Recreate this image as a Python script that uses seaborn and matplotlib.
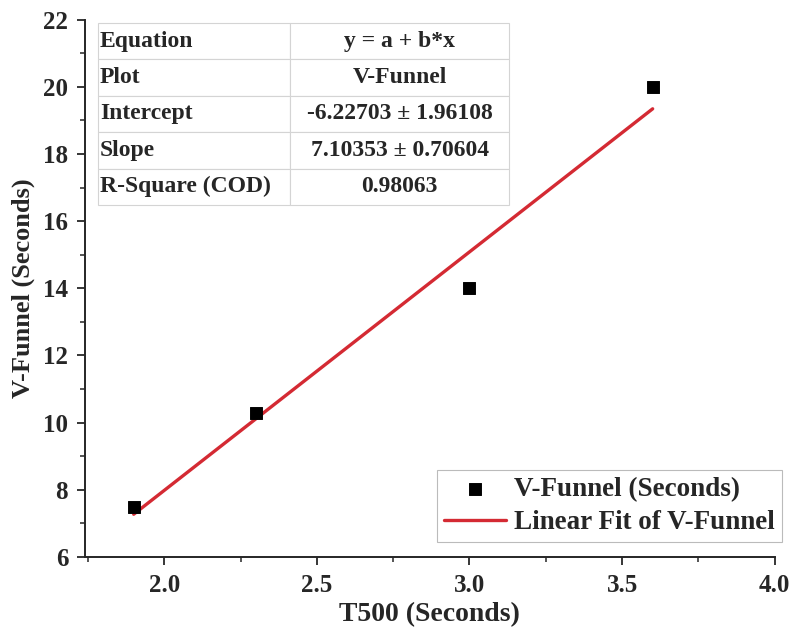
import numpy as np
import pandas as pd
import seaborn as sns
import matplotlib.pyplot as plt
from matplotlib.ticker import MultipleLocator

# measured points
t500 = [1.9, 2.3, 3.0, 3.6]
v_funnel = [7.5, 10.3, 14.0, 20.0]

# fit results as reported
intercept = -6.22703
intercept_err = 1.96108
slope = 7.10353
slope_err = 0.70604
r_square = 0.98063

table_rows = [
    ['Equation', 'y = a + b*x'],
    ['Plot', 'V-Funnel'],
    ['Intercept', f'{intercept:.5f} \u00b1 {intercept_err:.5f}'],
    ['Slope', f'{slope:.5f} \u00b1 {slope_err:.5f}'],
    ['R-Square (COD)', f'{r_square:.5f}'],
]

sns.set_style('ticks')
plt.rcParams['font.family'] = ['Liberation Serif', 'DejaVu Serif']
plt.rcParams['font.weight'] = 'bold'

df = pd.DataFrame({'x': t500, 'y': v_funnel})
fit_x = np.array([min(t500), max(t500)])
fit_df = pd.DataFrame({'x': fit_x, 'y': intercept + slope * fit_x})

fig = plt.figure(figsize=(7.93, 6.35), dpi=100)
ax = fig.add_axes([0.107, 0.123, 0.870, 0.846])

sns.scatterplot(data=df, x='x', y='y', marker='s', s=70, color='black',
                edgecolor='black', label='V-Funnel (Seconds)', ax=ax, zorder=3)
sns.lineplot(data=fit_df, x='x', y='y', color='#d42a33', linewidth=2.4,
             label='Linear Fit of V-Funnel', ax=ax, zorder=2)

ax.set_xlim(1.74, 4.0)
ax.set_ylim(6, 22)
ax.xaxis.set_major_locator(MultipleLocator(0.5))
ax.xaxis.set_minor_locator(MultipleLocator(0.25))
ax.yaxis.set_major_locator(MultipleLocator(2))
ax.yaxis.set_minor_locator(MultipleLocator(1))
ax.tick_params(which='major', length=6, width=1.3, labelsize=18, pad=6)
ax.tick_params(which='minor', length=3.5, width=1.1)
for s in ['left', 'bottom']:
    ax.spines[s].set_linewidth(1.4)
sns.despine(ax=ax)

ax.set_xlabel('T500 (Seconds)', fontsize=20, fontweight='bold', labelpad=4)
ax.set_ylabel('V-Funnel (Seconds)', fontsize=19, fontweight='bold', labelpad=6)

leg = ax.legend(loc='lower right', fontsize=19.5, frameon=True, fancybox=False,
                handlelength=2.3, handletextpad=0.3, borderpad=0.25,
                labelspacing=0.3, borderaxespad=0, bbox_to_anchor=(1.01, 0.028))
leg.get_frame().set_edgecolor('#aaaaaa')
leg.get_frame().set_linewidth(0.8)

tbl = ax.table(cellText=table_rows, bbox=[0.019, 0.655, 0.596, 0.339],
               colWidths=[0.467, 0.533])
tbl.auto_set_font_size(False)
tbl.set_fontsize(17)
for (r, c), cell in tbl.get_celld().items():
    cell.set_edgecolor('#d4d4d4')
    cell.set_linewidth(0.8)
    cell.get_text().set_fontweight('bold')
    if c == 0:
        cell.get_text().set_ha('left')
        cell.PAD = 0.01
    else:
        cell.get_text().set_ha('center')

plt.savefig('out.png', dpi=100)
